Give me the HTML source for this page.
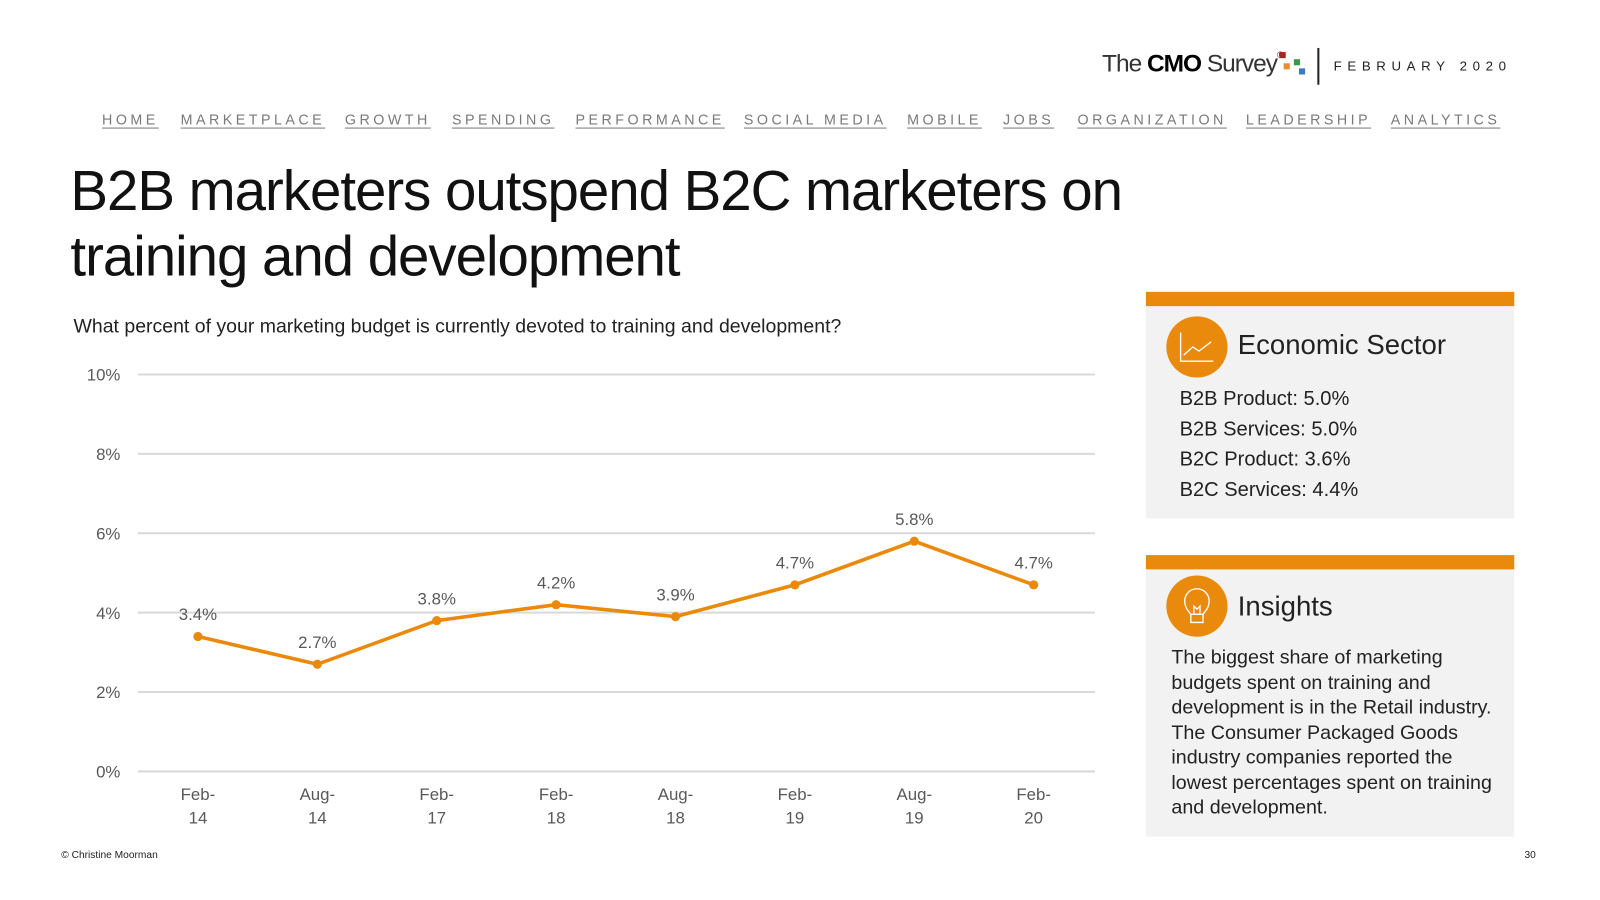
<!DOCTYPE html>
<html><head><meta charset="utf-8"><style>
body{margin:0;width:1600px;height:900px;background:#fff;font-family:"Liberation Sans",sans-serif;position:relative;overflow:hidden}
#wrap{position:absolute;left:0;top:0;width:1568px;height:882px;transform:scale(1.0204);transform-origin:0 0}
.a{position:absolute}
.nav{position:absolute;top:109px;font-size:14px;letter-spacing:3.4px;color:#7a7a7a;text-decoration:underline;text-underline-offset:3px}
.panel{position:absolute;left:1123px;width:361px;background:#f2f2f2;border-top:14px solid #ea8a0c}
.circ{position:absolute;left:20px;width:60px;height:60px;border-radius:50%;background:#ea8a0c}
</style></head><body><div id="wrap">
<div class="a" style="left:1080px;top:49px;font-size:24px;letter-spacing:-1px;color:#333">The <b style="color:#000">CMO</b> Survey<span style="font-size:9px;vertical-align:top">®</span></div>
<div class="a" style="left:1254px;top:51px;width:6px;height:6px;background:#a3271b"></div>
<div class="a" style="left:1258px;top:62px;width:6px;height:6px;background:#e8902c"></div>
<div class="a" style="left:1268px;top:58px;width:6px;height:6px;background:#3a9a4a"></div>
<div class="a" style="left:1273px;top:67px;width:6px;height:6px;background:#3c7bc4"></div>
<div class="a" style="left:1291px;top:47px;width:2px;height:36px;background:#222"></div>
<div class="a" style="left:1307px;top:57px;font-size:13px;letter-spacing:5.5px;color:#222">FEBRUARY 2020</div>
<div class="nav" style="left:100px">HOME</div>
<div class="nav" style="left:177px">MARKETPLACE</div>
<div class="nav" style="left:338px">GROWTH</div>
<div class="nav" style="left:443px">SPENDING</div>
<div class="nav" style="left:564px">PERFORMANCE</div>
<div class="nav" style="left:729px">SOCIAL MEDIA</div>
<div class="nav" style="left:889px">MOBILE</div>
<div class="nav" style="left:983px">JOBS</div>
<div class="nav" style="left:1056px">ORGANIZATION</div>
<div class="nav" style="left:1221px">LEADERSHIP</div>
<div class="nav" style="left:1363px">ANALYTICS</div>
<div class="a" style="left:69px;top:155px;font-size:55.3px;line-height:64px;letter-spacing:-1px;color:#111">B2B marketers outspend B2C marketers on<br>training and development</div>
<div class="a" style="left:72px;top:310px;font-size:19.1px;color:#222">What percent of your marketing budget is currently devoted to training and development?</div>
<svg class="a" style="left:0;top:0" width="1100" height="830" id="ch"></svg>
<div class="panel" style="top:286px;height:208px">
<div class="circ" style="top:10px"><svg width="60" height="60"><path d="M14 16V44H46M17 38L26 30L32 34L44 25" stroke="#fff" stroke-width="1.3" fill="none"/></svg></div>
<div class="a" style="left:90px;top:23px;font-size:27px;color:#222">Economic Sector</div>
<div class="a" style="left:33px;top:77px;font-size:19.7px;line-height:29.5px;color:#222">B2B Product: 5.0%<br>B2B Services: 5.0%<br>B2C Product: 3.6%<br>B2C Services: 4.4%</div>
</div>
<div class="panel" style="top:544px;height:262px">
<div class="circ" style="top:6px"><svg width="60" height="60"><path d="M24 38C20 33 18 30 18 25A12 12 0 0 1 42 25C42 30 40 33 36 38ZM24 38V46H36V38M27 38V30L30 33L33 30V38" stroke="#fff" stroke-width="1.3" fill="none"/></svg></div>
<div class="a" style="left:90px;top:21px;font-size:27px;color:#222">Insights</div>
<div class="a" style="left:25px;top:75px;width:330px;font-size:19.3px;line-height:24.5px;color:#222">The biggest share of marketing budgets spent on training and development is in the Retail industry. The Consumer Packaged Goods industry companies reported the lowest percentages spent on training and development.</div>
</div>
<div class="a" style="left:60px;top:833px;font-size:10px;color:#222">© Christine Moorman</div>
<div class="a" style="left:1494px;top:833px;font-size:10px;color:#222">30</div>
</div>
<script>
const categories=[["Feb-","14"],["Aug-","14"],["Feb-","17"],["Feb-","18"],["Aug-","18"],["Feb-","19"],["Aug-","19"],["Feb-","20"]];
const values=[3.4,2.7,3.8,4.2,3.9,4.7,5.8,4.7];
const yTicks=[0,2,4,6,8,10];
const svg=document.getElementById('ch');
const NS='http://www.w3.org/2000/svg';
const y=v=>756-v*38.9;
const x=i=>194+i*117;
function mk(t,a,txt){const e=document.createElementNS(NS,t);for(const k in a)e.setAttribute(k,a[k]);if(txt!==undefined)e.textContent=txt;svg.appendChild(e);return e;}
yTicks.forEach(t=>{
const g=mk('line',{x1:135,x2:1073,y1:y(t),y2:y(t),stroke:'#d9d9d9','stroke-width':2});


const l=mk('text',{x:118,y:y(t)+6,'text-anchor':'end','font-size':16.5,fill:'#595959','font-family':'Liberation Sans'},t+'%');


});
categories.forEach((c,i)=>{
const l=mk('text',{x:x(i),y:784,'text-anchor':'middle','font-size':16.5,fill:'#595959','font-family':'Liberation Sans'});


c.forEach((s,j)=>{const ts=document.createElementNS(NS,'tspan');ts.setAttribute('x',x(i));ts.setAttribute('dy',j?23:0);ts.textContent=s;l.appendChild(ts);});
});
const ln=mk('polyline',{points:values.map((v,i)=>x(i)+','+y(v)).join(' '),fill:'none',stroke:'#ea8a0c','stroke-width':3.5});


values.forEach((v,i)=>{
const p=mk('circle',{cx:x(i),cy:y(v),r:4.5,fill:'#ea8a0c'});


const t=mk('text',{x:x(i),y:y(v)-16,'text-anchor':'middle','font-size':16.5,fill:'#595959','font-family':'Liberation Sans'},v.toFixed(1)+'%');


});
</script>
</body></html>
